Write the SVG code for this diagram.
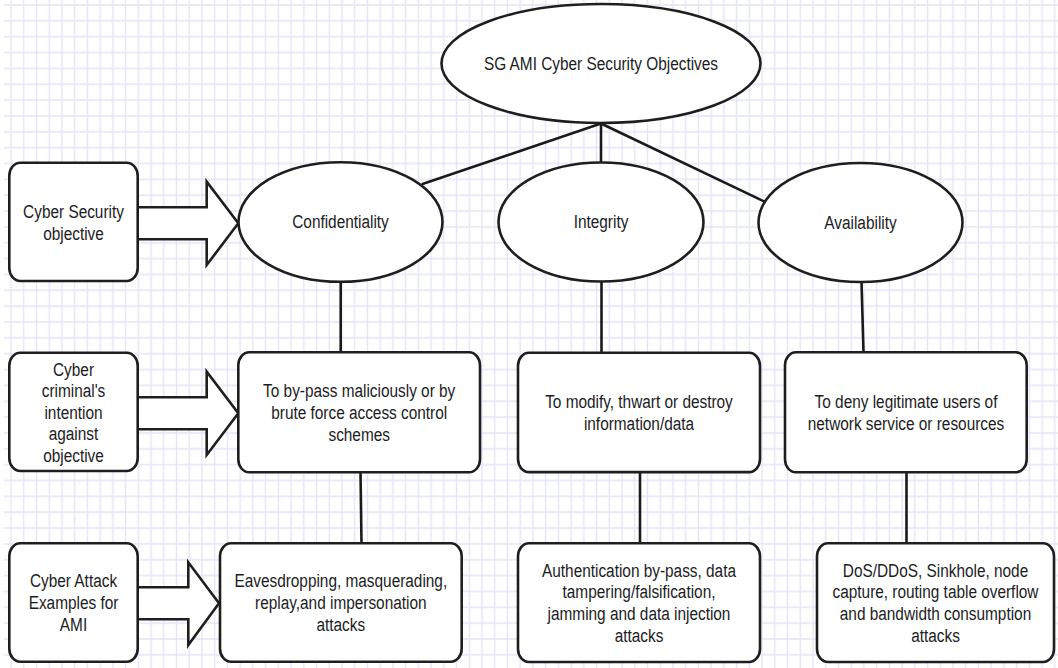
<svg xmlns="http://www.w3.org/2000/svg" width="1058" height="668" viewBox="0 0 1058 668">
  <defs>
    <!-- light lavender drawing grid -->
    <pattern id="grid" x="4.635" y="-2.925" width="12.73" height="15.85" patternUnits="userSpaceOnUse">
      <path d="M6.365 0 V15.85 M0 7.925 H12.73" stroke="#e4e4f9" stroke-width="1.4" fill="none"/>
    </pattern>
    <style>
      .shape { fill: #ffffff; stroke: #1e1e1e; stroke-width: 2.6; }
      .link { fill: none; stroke: #1a1a1a; stroke-width: 2.6; }
      .label { font-family: "Liberation Sans", Arial, sans-serif; font-size: 19px; fill: #1c1c24; text-anchor: middle; }
    </style>
  </defs>

  <rect x="0" y="0" width="1058" height="668" fill="#ffffff"/>
  <rect x="4" y="0" width="1054" height="668" fill="url(#grid)"/>

  <!-- connectors -->
  <g id="connectors">
    <path class="link" d="M601 123.5 L421.7 184.3"/>
    <path class="link" d="M601 123.5 L601 162.5"/>
    <path class="link" d="M601 123.5 L766 202.3"/>
    <path class="link" d="M340.7 282 L340.7 352.3"/>
    <path class="link" d="M360.5 472.3 L361.5 543.3"/>
    <path class="link" d="M601.5 281.5 L601.5 353"/>
    <path class="link" d="M640 472 L640 543.3"/>
    <path class="link" d="M861.5 282 L863.5 352.3"/>
    <path class="link" d="M906.5 472.3 L906.5 543.3"/>
  </g>

  <!-- block arrows from the row headers -->
  <g id="arrow-objective">
    <path class="shape" d="M139 207.3 H206.7 V181.7 L238.3 223.3 L206.7 265 V239.3 H139"/>
  </g>
  <g id="arrow-intention">
    <path class="shape" d="M139 397.3 H206.7 V371.7 L238.3 413.3 L206.7 455 V429.3 H139"/>
  </g>
  <g id="arrow-attacks">
    <path class="shape" d="M139 587.3 H188.3 V562.3 L219 603.3 L188.3 645 V619.3 H139"/>
  </g>

  <!-- root objective -->
  <g id="root">
    <ellipse class="shape" cx="601" cy="63.5" rx="159.5" ry="59.5"/>
    <text class="label" transform="matrix(0.81 0 0 1 601 0)"><tspan x="0" y="70.5">SG AMI Cyber Security Objectives</tspan></text>
  </g>

  <!-- objectives -->
  <g id="confidentiality">
    <ellipse class="shape" cx="340.5" cy="222" rx="102" ry="59.8"/>
    <text class="label" transform="matrix(0.81 0 0 1 340.5 0)"><tspan x="0" y="228.5">Confidentiality</tspan></text>
  </g>
  <g id="integrity">
    <ellipse class="shape" cx="601" cy="222" rx="102.5" ry="59.5"/>
    <text class="label" transform="matrix(0.81 0 0 1 601 0)"><tspan x="0" y="228.5">Integrity</tspan></text>
  </g>
  <g id="availability">
    <ellipse class="shape" cx="860.5" cy="222.5" rx="102" ry="59.5"/>
    <text class="label" transform="matrix(0.81 0 0 1 860.5 0)"><tspan x="0" y="229">Availability</tspan></text>
  </g>

  <!-- row headers -->
  <g id="header-objective">
    <rect class="shape" x="9.3" y="162.7" width="128.4" height="118.3" rx="11" ry="13"/>
    <text class="label" transform="matrix(0.81 0 0 1 73.5 0)"><tspan x="0" y="218">Cyber Security</tspan><tspan x="0" y="239.7">objective</tspan></text>
  </g>
  <g id="header-intention">
    <rect class="shape" x="9.3" y="352.7" width="128.4" height="118.3" rx="11" ry="13"/>
    <text class="label" transform="matrix(0.81 0 0 1 73.5 0)"><tspan x="0" y="376">Cyber</tspan><tspan x="0" y="397.5">criminal's</tspan><tspan x="0" y="419">intention</tspan><tspan x="0" y="440.5">against</tspan><tspan x="0" y="462">objective</tspan></text>
  </g>
  <g id="header-attacks">
    <rect class="shape" x="9.3" y="543.3" width="128.4" height="118.4" rx="11" ry="13"/>
    <text class="label" transform="matrix(0.81 0 0 1 73.5 0)"><tspan x="0" y="587.5">Cyber Attack</tspan><tspan x="0" y="609.2">Examples for</tspan><tspan x="0" y="630.9">AMI</tspan></text>
  </g>

  <!-- intentions -->
  <g id="intent-confidentiality">
    <rect class="shape" x="238.3" y="352.3" width="241.7" height="120" rx="11" ry="13"/>
    <text class="label" transform="matrix(0.81 0 0 1 359.2 0)"><tspan x="0" y="397.3">To by-pass maliciously or by</tspan><tspan x="0" y="419">brute force access control</tspan><tspan x="0" y="440.7">schemes</tspan></text>
  </g>
  <g id="intent-integrity">
    <rect class="shape" x="518" y="352.8" width="242" height="119.3" rx="11" ry="13"/>
    <text class="label" transform="matrix(0.81 0 0 1 639 0)"><tspan x="0" y="408">To modify, thwart or destroy</tspan><tspan x="0" y="429.7">information/data</tspan></text>
  </g>
  <g id="intent-availability">
    <rect class="shape" x="785" y="352.3" width="241.7" height="120" rx="11" ry="13"/>
    <text class="label" transform="matrix(0.81 0 0 1 906 0)"><tspan x="0" y="408">To deny legitimate users of</tspan><tspan x="0" y="429.7">network service or resources</tspan></text>
  </g>

  <!-- attack examples -->
  <g id="attacks-confidentiality">
    <rect class="shape" x="220" y="543.3" width="241.7" height="118.4" rx="11" ry="13"/>
    <text class="label" transform="matrix(0.81 0 0 1 340.8 0)"><tspan x="0" y="587.5">Eavesdropping, masquerading,</tspan><tspan x="0" y="609.2">replay,and impersonation</tspan><tspan x="0" y="630.9">attacks</tspan></text>
  </g>
  <g id="attacks-integrity">
    <rect class="shape" x="518" y="543.3" width="242" height="118.7" rx="11" ry="13"/>
    <text class="label" transform="matrix(0.81 0 0 1 639 0)"><tspan x="0" y="576.8">Authentication by-pass, data</tspan><tspan x="0" y="598.5">tampering/falsification,</tspan><tspan x="0" y="620.2">jamming and data injection</tspan><tspan x="0" y="641.9">attacks</tspan></text>
  </g>
  <g id="attacks-availability">
    <rect class="shape" x="817" y="543.3" width="237" height="118.7" rx="11" ry="13"/>
    <text class="label" transform="matrix(0.81 0 0 1 935.5 0)"><tspan x="0" y="576.8">DoS/DDoS, Sinkhole, node</tspan><tspan x="0" y="598.5">capture, routing table overflow</tspan><tspan x="0" y="620.2">and bandwidth consumption</tspan><tspan x="0" y="641.9">attacks</tspan></text>
  </g>
</svg>
